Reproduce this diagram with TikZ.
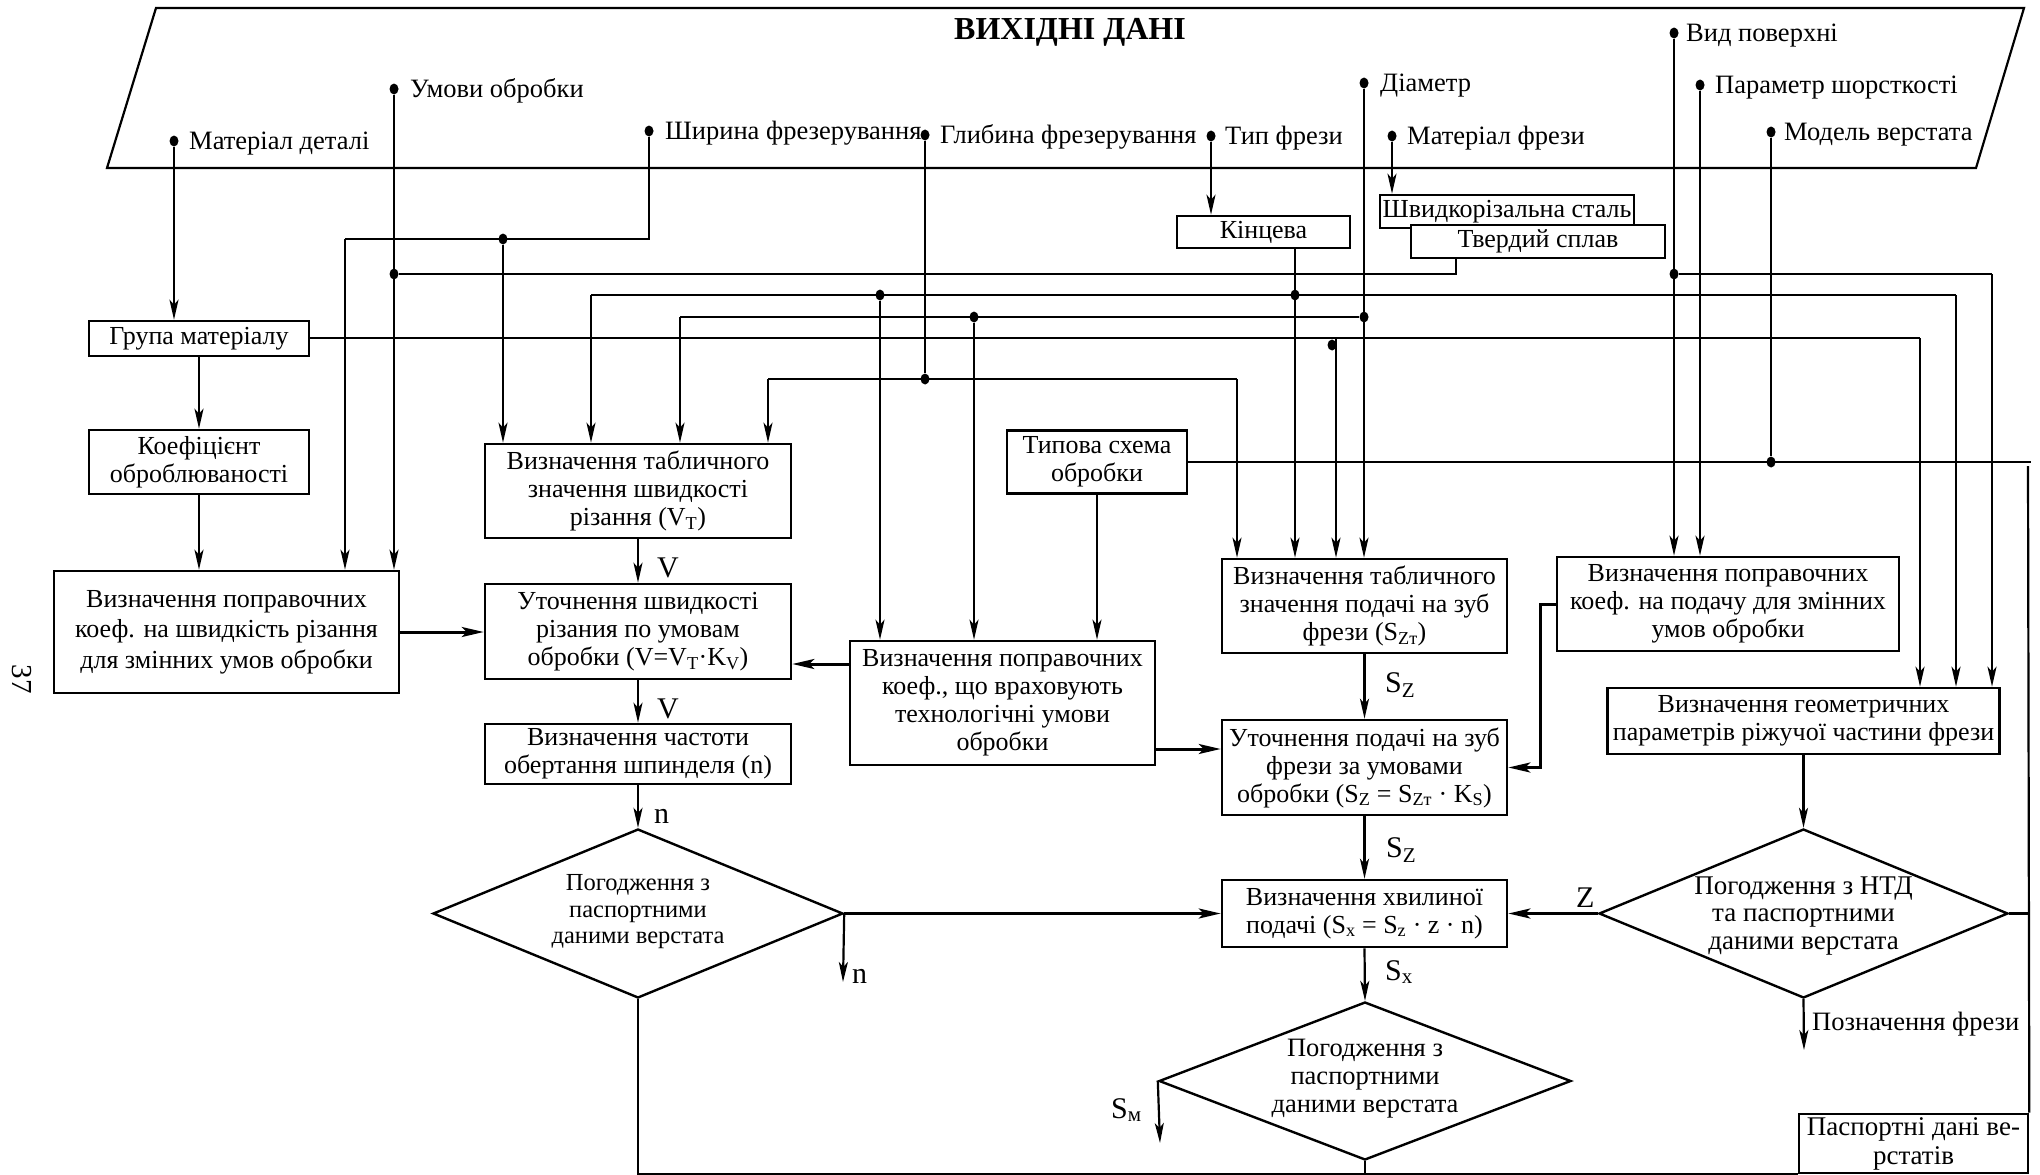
\documentclass[tikz,border=0pt]{standalone}
\usepackage{fontspec}
\setmainfont{Liberation Serif}
\usetikzlibrary{arrows.meta,shapes.geometric}

\tikzset{
  box/.style={draw, line width=2.6pt, fill=white, align=center, inner sep=1pt,
              font=\fontsize{26}{28}\selectfont},
  dia/.style={draw, diamond, line width=2.4pt, inner sep=0pt},
  dtext/.style={align=center, inner sep=0pt},
  ln/.style={line width=2.2pt},
  arr/.style={line width=2.2pt, -{Stealth[length=20pt,width=9pt,inset=5pt]}},
  harr/.style={line width=3pt, -{Stealth[length=22pt,width=10pt,inset=5pt]}},
  jdot/.style={ellipse, fill, inner sep=0pt, minimum width=9pt, minimum height=11pt},
  inp/.style={anchor=base west, inner sep=0pt, font=\fontsize{26.5}{28}\selectfont},
  lbl/.style={anchor=base west, inner sep=0pt, font=\fontsize{30}{32}\selectfont},
}

\begin{document}
\begin{tikzpicture}[x=1pt,y=-1pt]
\useasboundingbox (0,0) rectangle (2040,1175);

% page number
\node[rotate=-90, inner sep=0pt, font=\fontsize{29}{30}\selectfont] (pg) at (22,679) {37};

% input data block
\draw[ln] (156,8) -- (2024,8) -- (1976,168) -- (107,168) -- cycle;
\node[inner sep=0pt, font=\fontsize{32}{34}\selectfont\bfseries] (title) at (1070,32) {ВИХІДНІ ДАНІ};

% input items
\node[jdot] (iMat)  at (174,141) {};  \node[inp] (tMat)  at (189,149)  {Матеріал деталі};
\node[jdot] (iUmo)  at (394,89) {};   \node[inp] (tUmo)  at (410,97)   {Умови обробки};
\node[jdot] (iShir) at (649,131) {};  \node[inp] (tShir) at (665,139)  {Ширина фрезерування};
\node[jdot] (iGlyb) at (925,135) {};  \node[inp] (tGlyb) at (940,143)  {Глибина фрезерування};
\node[jdot] (iTyp)  at (1211,136) {}; \node[inp] (tTyp)  at (1225,144) {Тип фрези};
\node[jdot] (iDiam) at (1364,83) {};  \node[inp] (tDiam) at (1380,91)  {Діаметр};
\node[jdot] (iMatF) at (1392,136) {}; \node[inp] (tMatF) at (1407,144) {Матеріал фрези};
\node[jdot] (iVyd)  at (1674,33) {};  \node[inp] (tVyd)  at (1686,41)  {Вид поверхні};
\node[jdot] (iPar)  at (1700,85) {};  \node[inp] (tPar)  at (1715,93)  {Параметр шорсткості};
\node[jdot] (iMod)  at (1771,132) {}; \node[inp] (tMod)  at (1784,140) {Модель верстата};

% blocks
\node[box, minimum width=220pt, minimum height=35pt] (grp) at (199,338.5) {Група матеріалу};
\node[box, minimum width=220pt, minimum height=64pt] (koef) at (199,462) {Коефіцієнт\\оброблюваності};
\node[box, minimum width=345pt, minimum height=122pt, font=\fontsize{26}{30.5}\selectfont] (pvk) at (226.5,632) {Визначення поправочних\\коеф. на швидкість різання\\для змінних умов обробки};
\node[box, minimum width=306pt, minimum height=94pt] (vt) at (638,491) {Визначення табличного\\значення швидкості\\різання (V\textsubscript{T})};
\node[box, minimum width=306pt, minimum height=95pt] (vut) at (638,631.5) {Уточнення швидкості\\різания по умовам\\обробки (V=V\textsubscript{T}·K\textsubscript{V})};
\node[box, minimum width=306pt, minimum height=60pt] (nfr) at (638,754) {Визначення частоти\\обертання шпинделя (n)};
\node[box, minimum width=305pt, minimum height=124pt] (ptu) at (1002.5,703) {Визначення поправочних\\коеф., що враховують\\технологічні умови\\обробки};
\node[box, minimum width=180pt, minimum height=63pt] (typ) at (1097,462) {Типова схема\\обробки};
\node[box, minimum width=173pt, minimum height=32pt] (kin) at (1263.5,232) {Кінцева};
\node[box, minimum width=254pt, minimum height=33pt] (hss) at (1507,211.5) {Швидкорізальна сталь};
\node[box, minimum width=254pt, minimum height=33pt] (hard) at (1538,241.5) {Твердий сплав};
\node[box, minimum width=285pt, minimum height=94pt] (szt) at (1364.5,606) {Визначення табличного\\значення подачі на зуб\\фрези (S\textsubscript{Zт})};
\node[box, minimum width=342pt, minimum height=94pt] (pks) at (1728,604) {Визначення поправочних\\коеф. на подачу для змінних\\умов обробки};
\node[box, minimum width=285pt, minimum height=95pt] (sz) at (1364.5,767.5) {Уточнення подачі на зуб\\фрези за умовами\\обробки (S\textsubscript{Z} = S\textsubscript{Zт} · K\textsubscript{S})};
\node[box, minimum width=392pt, minimum height=66pt] (geo) at (1803.5,721) {Визначення геометричних\\параметрів ріжучої частини фрези};
\node[box, minimum width=285pt, minimum height=67pt] (sx) at (1364.5,913.5) {Визначення хвилиної\\подачі (S\textsubscript{x} = S\textsubscript{z} · z · n)};
\node[box, minimum width=229pt, minimum height=59pt, font=\fontsize{27}{29}\selectfont] (pasp) at (1913.5,1143.5) {Паспортні дані ве-\\рстатів};

% decisions
\node[dia, minimum width=410pt, minimum height=169pt] (d1) at (638,913.5) {};
\node[dtext, font=\fontsize{24.5}{26.5}\selectfont] (d1t) at (638,912) {Погодження з\\паспортними\\даними верстата};
\node[dia, minimum width=409pt, minimum height=169pt] (d2) at (1803.5,913.5) {};
\node[dtext, font=\fontsize{27}{27.5}\selectfont] (d2t) at (1803.5,916) {Погодження з НТД\\та паспортними\\даними верстата};
\node[dia, minimum width=412pt, minimum height=158pt] (d3) at (1365,1081) {};
\node[dtext, font=\fontsize{26.5}{28}\selectfont] (d3t) at (1365,1079) {Погодження з\\паспортними\\даними верстата};

% bus corners and junctions
\coordinate (cHard) at (1456,274);
\node[jdot] (jUmo) at (394,274) {};
\coordinate (cShir) at (649,239);
\coordinate (cShirL) at (345,239);
\node[jdot] (jShir) at (503,239) {};
\coordinate (b295L) at (591,295);
\coordinate (b295R) at (1956,295);
\node[jdot] (j880) at (880,295) {};
\node[jdot] (jKin) at (1295,295) {};
\coordinate (b317L) at (680,317);
\node[jdot] (j974) at (974,317) {};
\node[jdot] (jDiam) at (1364,317) {};
\coordinate (b338R) at (1920,338);
\coordinate (c1336) at (1336,338);
\node[jdot] (j1336) at (1332,345) {};
\node[jdot] (jGlyb) at (925,379) {};
\coordinate (b379L) at (768,379);
\coordinate (b379R) at (1237,379);
\node[jdot] (jVyd) at (1674,274) {};
\coordinate (c1992) at (1992,274);
\node[jdot] (jMod) at (1771,462) {};
\coordinate (cTypR) at (2031,462);
\coordinate (cRtop) at (2028,466);
\coordinate (c1540) at (1540,604);
\coordinate (cPtuA) at (850,664);
\coordinate (cPtuB) at (1155,749);
\coordinate (cN) at (843,982);
\coordinate (cPoz) at (1804,1050);
\coordinate (cSm) at (1160,1143);

% input data lines
\draw[arr] (iMat) -- (iMat |- grp.north);
\draw[arr] (iUmo) -- (iUmo |- pvk.north);
\draw[ln] (hard.south -| cHard) -- (cHard) -- (jUmo);
\draw[ln] (iShir) -- (cShir) -- (cShirL);
\draw[arr] (cShirL) -- (cShirL |- pvk.north);
\draw[arr] (jShir) -- (jShir |- vt.north);
\draw[ln] (b295L) -- (b295R);
\draw[arr] (b295L) -- (b295L |- vt.north);
\draw[arr] (b295R) -- (b295R |- geo.north);
\draw[arr] (j880) -- (j880 |- ptu.north);
\draw[arr] (kin.south -| jKin) -- (jKin |- szt.north);
\draw[ln] (b317L) -- (jDiam);
\draw[arr] (b317L) -- (b317L |- vt.north);
\draw[arr] (j974) -- (j974 |- ptu.north);
\draw[arr] (iDiam) -- (iDiam |- szt.north);
\draw[ln] (grp.east |- b338R) -- (b338R);
\draw[arr] (b338R) -- (b338R |- geo.north);
\draw[arr] (c1336) -- (c1336 |- szt.north);
\draw[ln] (iGlyb) -- (jGlyb);
\draw[ln] (b379L) -- (b379R);
\draw[arr] (b379L) -- (b379L |- vt.north);
\draw[arr] (b379R) -- (b379R |- szt.north);
\draw[arr] (iTyp) -- (iTyp |- kin.north);
\draw[arr] (iMatF) -- (iMatF |- hss.north);
\draw[arr] (iVyd) -- (iVyd |- pks.north);
\draw[ln] (jVyd) -- (c1992);
\draw[arr] (c1992) -- (c1992 |- geo.north);
\draw[arr] (iPar) -- (iPar |- pks.north);
\draw[ln] (iMod) -- (jMod);
\draw[ln] (typ.east |- jMod) -- (cTypR);
\draw[ln] (pasp.north east) -- (cRtop);

% flow between blocks
\draw[arr] (grp.south) -- (koef.north);
\draw[arr] (koef.south) -- (koef.south |- pvk.north);
\draw[harr] (pvk.east) -- (pvk.east -| vut.west);
\draw[arr] (vt.south) -- (vut.north);
\draw[arr] (vut.south) -- (nfr.north);
\draw[arr] (nfr.south) -- (d1.north);
\draw[arr] (typ.south) -- (typ.south |- ptu.north);
\draw[harr] (cPtuA) -- (cPtuA -| vut.east);
\draw[harr] (cPtuB) -- (cPtuB -| sz.west);
\draw[arr] (szt.south) -- (sz.north);
\draw[harr] (pks.west) -- (c1540) |- (sz.east);
\draw[arr] (sz.south) -- (sx.north);
\draw[arr] (sx.south) -- (d3.north);
\draw[arr] (geo.south) -- (d2.north);
\draw[harr] (d2.west) -- (sx.east);
\draw[harr] (d1.east) -- (sx.west);
\draw[arr] (d1.east) -- (cN);
\draw[arr] (d2.south) -- (cPoz);
\draw[arr] (d3.west) -- (cSm);
\draw[ln] (d2.east) -- (d2.east -| pasp.east);
\draw[ln] (d1.south) |- (pasp.south west);
\draw[ln] (d3.south) -- (d3.south |- pasp.south);

% flow labels
\node[lbl] (lV1) at (657,577) {V};
\node[lbl] (lV2) at (657,718) {V};
\node[lbl] (ln1) at (654,823) {n};
\node[lbl] (ln2) at (852,983) {n};
\node[lbl] (lS1) at (1385,692) {S\textsubscript{Z}};
\node[lbl] (lS2) at (1386,857) {S\textsubscript{Z}};
\node[lbl] (lSx) at (1385,980) {S\textsubscript{x}};
\node[lbl] (lSm) at (1111,1118) {S\textsubscript{м}};
\node[lbl] (lZ) at (1576,907) {Z};
\node[inp] (lPoz) at (1812,1030) {Позначення фрези};

\end{tikzpicture}
\end{document}
